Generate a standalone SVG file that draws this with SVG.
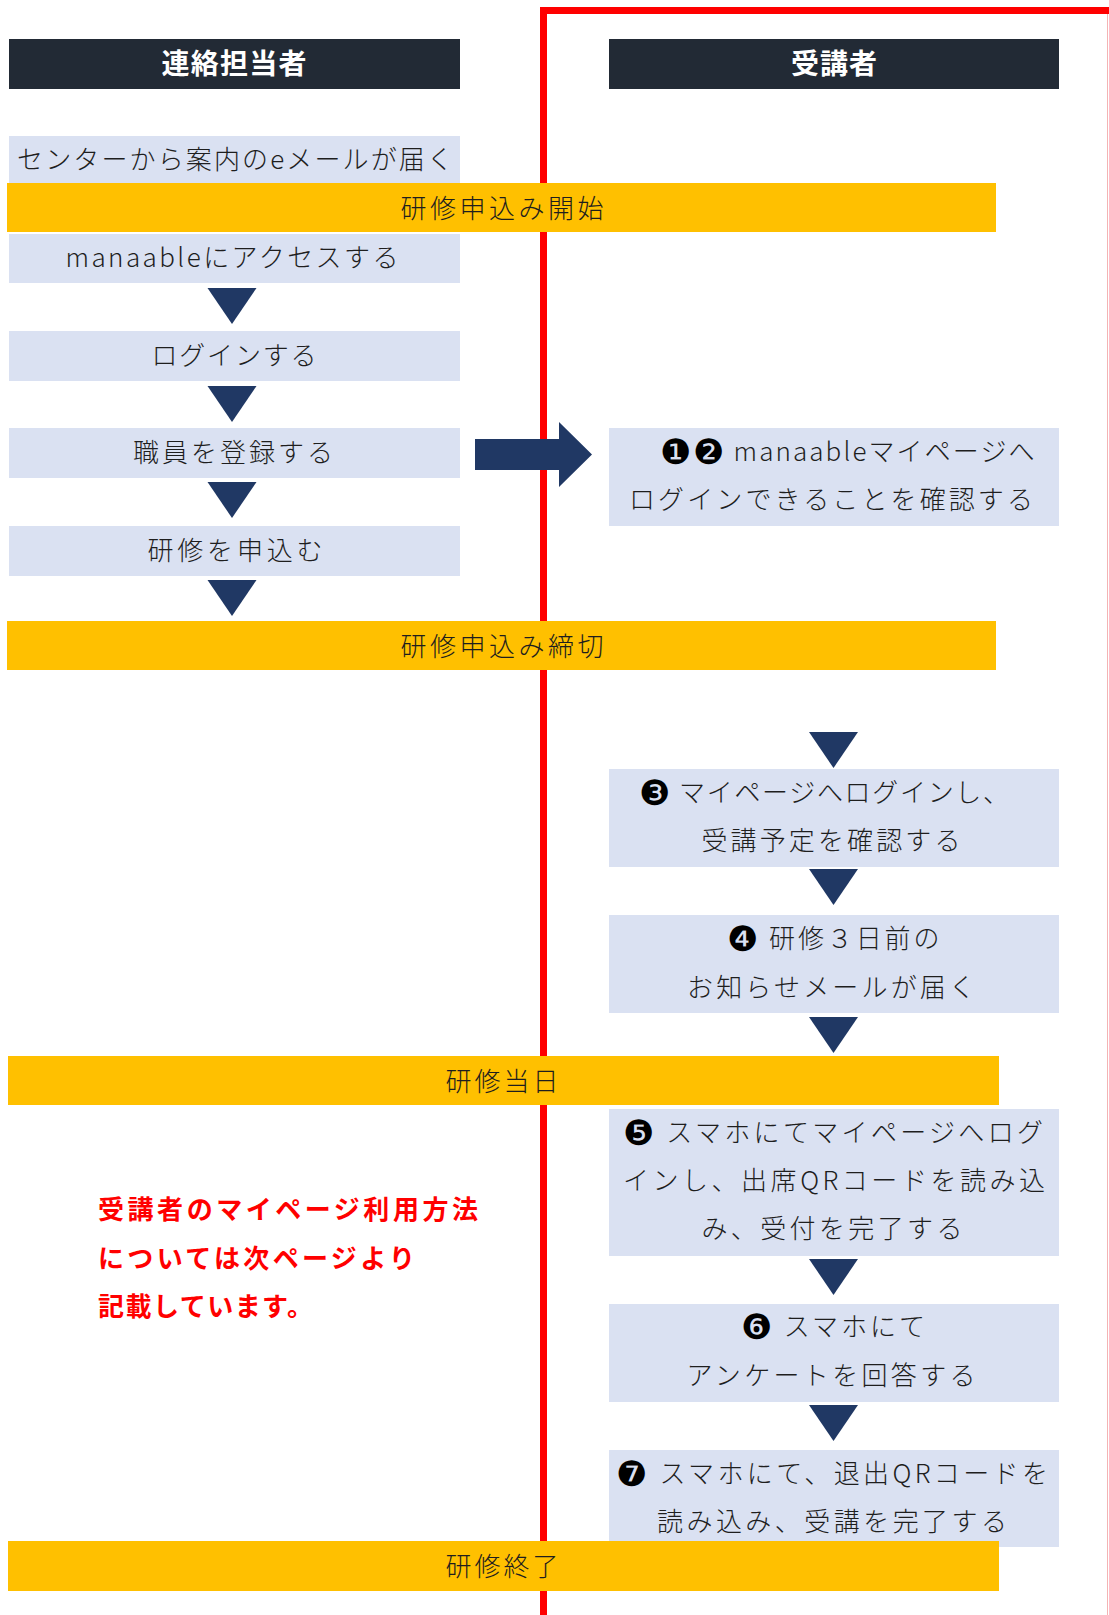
<svg xmlns="http://www.w3.org/2000/svg" width="1109" height="1615" viewBox="0 0 1109 1615">
<style>
text{font-family:"Noto Sans CJK JP","Noto Sans",sans-serif;}
.hd{fill:#222A35;}
.hdt{fill:#FFFFFF;font-size:28px;font-weight:700;text-anchor:middle;}
.bx{fill:#DAE1F2;}
.bar{fill:#FFC000;}
.t{fill:#1E1E1E;font-size:26px;font-weight:300;text-anchor:middle;}
.num{font-family:"DejaVu Sans",sans-serif;font-size:35px;fill:#000000;}
.tri{fill:#203864;}
.note{fill:#FF0000;font-size:26px;font-weight:700;}
</style>
<defs>
<path id="tri" d="M-24.5,0 L24.5,0 L0,36 Z"/>
</defs>
<rect width="1109" height="1615" fill="#FFFFFF"/>

<g id="frame">
<path d="M543.5,1615 V10.5 H1110" fill="none" stroke="#FF0000" stroke-width="7"/>
<line x1="1107.5" y1="14" x2="1107.5" y2="1615" stroke="#F4B4B4" stroke-width="1"/>
</g>

<g id="header-left"><rect class="hd" x="9" y="39" width="451" height="50"/><text class="hdt" x="234" y="74" textLength="145" lengthAdjust="spacing">連絡担当者</text></g>
<g id="header-right"><rect class="hd" x="609" y="39" width="450" height="50"/><text class="hdt" x="834" y="74" textLength="86" lengthAdjust="spacing">受講者</text></g>

<g id="n-mail"><rect class="bx" x="9" y="136" width="451" height="47"/><text class="t" x="235" y="169" textLength="436" lengthAdjust="spacing">センターから案内のeメールが届く</text></g>
<g id="bar-start"><rect class="bar" x="7" y="183" width="989" height="49"/><text class="t" x="502" y="218" textLength="203" lengthAdjust="spacing">研修申込み開始</text></g>
<g id="n-access"><rect class="bx" x="9" y="234" width="451" height="49"/><text class="t" x="232" y="267" textLength="333" lengthAdjust="spacing">manaableにアクセスする</text></g>
<g id="n-login"><rect class="bx" x="9" y="331" width="451" height="50"/><text class="t" x="234" y="365" textLength="165" lengthAdjust="spacing">ログインする</text></g>
<g id="n-register"><rect class="bx" x="9" y="428" width="451" height="50"/><text class="t" x="233" y="462" textLength="200" lengthAdjust="spacing">職員を登録する</text></g>
<g id="n-apply"><rect class="bx" x="9" y="526" width="451" height="50"/><text class="t" x="235" y="560" textLength="175" lengthAdjust="spacing">研修を申込む</text></g>
<g id="bar-deadline"><rect class="bar" x="7" y="621" width="989" height="49"/><text class="t" x="502" y="656" textLength="203" lengthAdjust="spacing">研修申込み締切</text></g>

<g id="n-12"><rect class="bx" x="609" y="428" width="450" height="98"/>
<text class="t" x="847" y="461" textLength="375" lengthAdjust="spacing"><tspan class="num" dy="3">❶❷</tspan><tspan dy="-3"> manaableマイページへ</tspan></text>
<text class="t" x="831" y="509" textLength="404" lengthAdjust="spacing">ログインできることを確認する</text></g>

<g id="n-3"><rect class="bx" x="609" y="769" width="450" height="98"/>
<text class="t" x="824" y="802" textLength="370" lengthAdjust="spacing"><tspan class="num" dy="3">❸</tspan><tspan dy="-3"> マイページへログインし、</tspan></text>
<text class="t" x="831" y="850" textLength="259" lengthAdjust="spacing">受講予定を確認する</text></g>

<g id="n-4"><rect class="bx" x="609" y="915" width="450" height="98"/>
<text class="t" x="833" y="948" textLength="213" lengthAdjust="spacing"><tspan class="num" dy="3">❹</tspan><tspan dy="-3"> 研修３日前の</tspan></text>
<text class="t" x="831" y="997" textLength="288" lengthAdjust="spacing">お知らせメールが届く</text></g>

<g id="bar-day"><rect class="bar" x="8" y="1056" width="991" height="49"/><text class="t" x="502" y="1091" textLength="113" lengthAdjust="spacing">研修当日</text></g>

<g id="n-5"><rect class="bx" x="609" y="1109" width="450" height="147"/>
<text class="t" x="833" y="1142" textLength="420" lengthAdjust="spacing"><tspan class="num" dy="3">❺</tspan><tspan dy="-3"> スマホにてマイページへログ</tspan></text>
<text class="t" x="834" y="1190" textLength="422" lengthAdjust="spacing">インし、出席QRコードを読み込</text>
<text class="t" x="832" y="1238" textLength="261" lengthAdjust="spacing">み、受付を完了する</text></g>

<g id="n-6"><rect class="bx" x="609" y="1304" width="450" height="98"/>
<text class="t" x="833" y="1336" textLength="184" lengthAdjust="spacing"><tspan class="num" dy="3">❻</tspan><tspan dy="-3"> スマホにて</tspan></text>
<text class="t" x="831" y="1385" textLength="289" lengthAdjust="spacing">アンケートを回答する</text></g>

<g id="n-7"><rect class="bx" x="609" y="1450" width="450" height="97"/>
<text class="t" x="832" y="1483" textLength="432" lengthAdjust="spacing"><tspan class="num" dy="3">❼</tspan><tspan dy="-3"> スマホにて、退出QRコードを</tspan></text></g>

<g id="bar-end"><rect class="bar" x="8" y="1541" width="991" height="50"/><text class="t" x="502" y="1576" textLength="113" lengthAdjust="spacing">研修終了</text></g>
<g id="n-7b"><text class="t" x="832" y="1531" textLength="350" lengthAdjust="spacing">読み込み、受講を完了する</text></g>

<g id="connectors">
<use href="#tri" class="tri" x="232" y="288"/>
<use href="#tri" class="tri" x="232" y="386"/>
<use href="#tri" class="tri" x="232" y="482"/>
<use href="#tri" class="tri" x="232" y="580"/>
<use href="#tri" class="tri" x="833.5" y="732"/>
<use href="#tri" class="tri" x="833.5" y="869"/>
<use href="#tri" class="tri" x="833.5" y="1017"/>
<use href="#tri" class="tri" x="833.5" y="1259"/>
<use href="#tri" class="tri" x="833.5" y="1405"/>
<polygon class="tri" points="475,439 559,439 559,422 592,454.5 559,487 559,470 475,470"/>
</g>

<g id="note">
<text class="note" x="98" y="1219" textLength="380" lengthAdjust="spacing">受講者のマイページ利用方法</text>
<text class="note" x="98" y="1268" textLength="317" lengthAdjust="spacing">については次ページより</text>
<text class="note" x="98" y="1316" textLength="215" lengthAdjust="spacing">記載しています。</text>
</g>
</svg>
